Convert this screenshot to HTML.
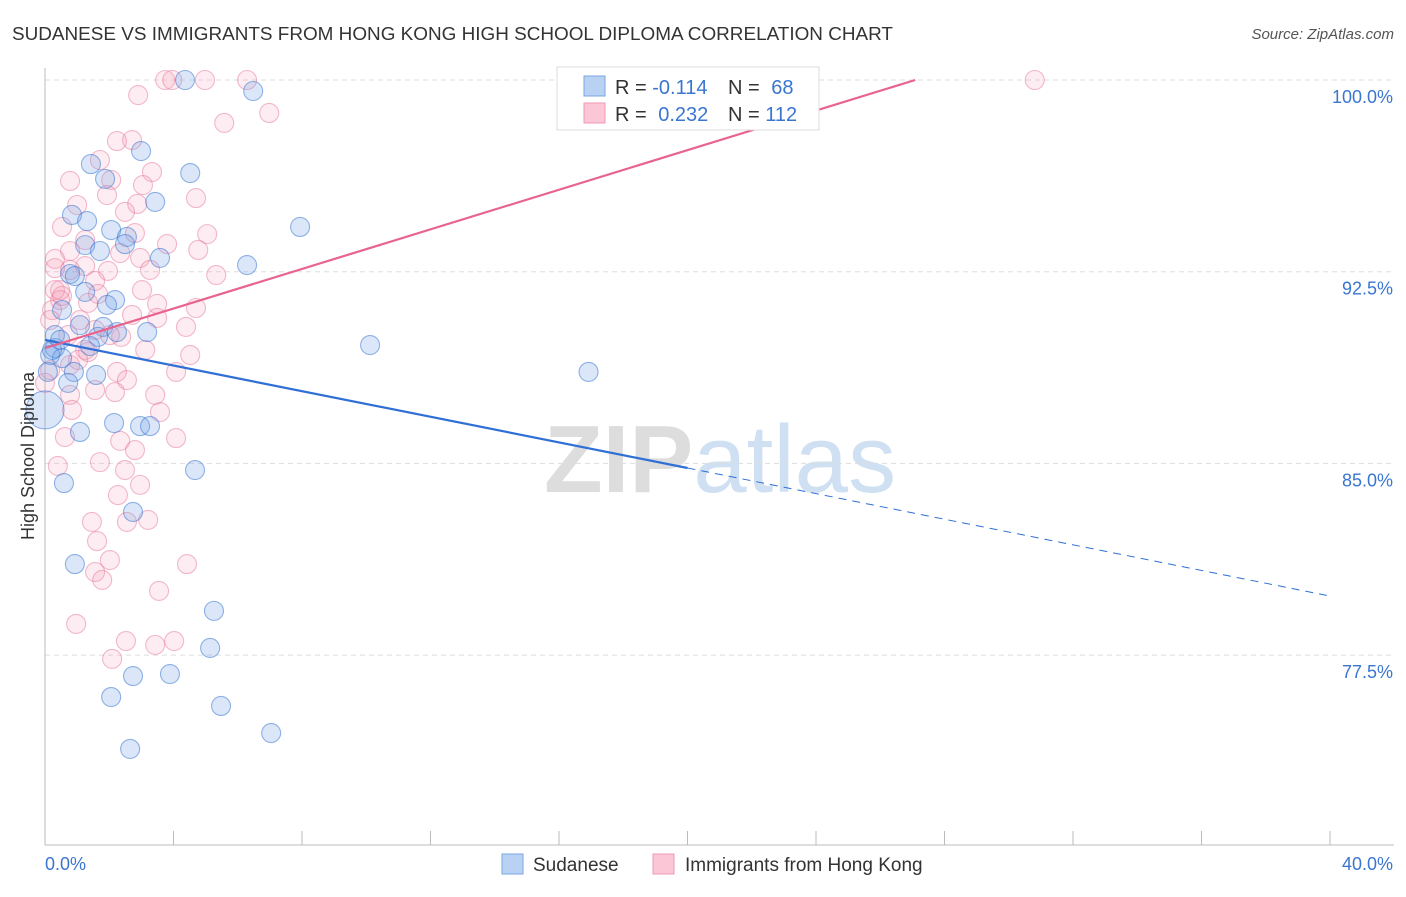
<!DOCTYPE html>
<html><head><meta charset="utf-8"><style>
body{margin:0;background:#fff;font-family:"Liberation Sans",sans-serif;}
svg text{font-family:"Liberation Sans",sans-serif;}
</style></head><body>
<svg id="chart" width="1406" height="892" viewBox="0 0 1406 892" xmlns="http://www.w3.org/2000/svg">
<text x="12" y="40" font-size="18" fill="#333" textLength="881" lengthAdjust="spacingAndGlyphs">SUDANESE VS IMMIGRANTS FROM HONG KONG HIGH SCHOOL DIPLOMA CORRELATION CHART</text>
<text x="1394" y="39" font-size="15" fill="#555" text-anchor="end" font-style="italic">Source: ZipAtlas.com</text>
<text x="720" y="492" font-size="96" text-anchor="middle" font-family="Liberation Serif" fill="#ddd" font-weight="bold">ZIP<tspan fill="#cfe0f3" font-family="Liberation Sans" font-weight="normal">atlas</tspan></text>
<g id="grid"></g>
<g id="axes"></g>
<g id="pts"></g>
<g id="lines"></g>
<text transform="translate(34,456) rotate(-90)" font-size="18" fill="#333" text-anchor="middle">High School Diploma</text>
<g>
<rect x="557" y="67" width="262" height="63" fill="#fff" stroke="#ddd"/>
<rect x="584" y="76" width="21" height="20" fill="#b9d2f3" stroke="#7aa6e0"/>
<rect x="584" y="103" width="21" height="20" fill="#fbc7d6" stroke="#ef9ab4"/>
<text x="615" y="94" font-size="20" fill="#333">R = <tspan fill="#3a76d0">-0.114</tspan></text>
<text x="728" y="94" font-size="20" fill="#333">N = <tspan fill="#3a76d0" dx="6">68</tspan></text>
<text x="615" y="121" font-size="20" fill="#333">R = <tspan fill="#3a76d0" dx="6">0.232</tspan></text>
<text x="728" y="121" font-size="20" fill="#333">N = <tspan fill="#3a76d0">112</tspan></text>
</g>
<g>
<rect x="502" y="854" width="21" height="20" fill="#b9d2f3" stroke="#7aa6e0"/>
<text x="533" y="871" font-size="19" fill="#333">Sudanese</text>
<rect x="653" y="854" width="21" height="20" fill="#fbc7d6" stroke="#ef9ab4"/>
<text x="685" y="871" font-size="19" fill="#333">Immigrants from Hong Kong</text>
</g>
</svg>
<script>
const yTicks=[100,92.5,85,77.5];
const xTickLabels=["0.0%","40.0%"];
const blueX=[4.36,6.48,2.99,1.43,4.52,1.87,3.43,0.84,1.31,7.94,2.06,2.55,1.25,2.49,1.71,3.58,6.29,0.78,0.93,1.25,2.18,1.93,0.53,1.09,1.81,3.18,2.24,0.31,1.65,10.12,1.40,0.31,0.16,0.53,16.92,0.90,1.59,0.72,0,2.15,2.96,3.27,1.09,4.67,0.59,2.74,0.93,5.26,5.14,2.74,3.89,2.06,5.48,7.04,2.65,0.22,0.47,0.09];
const blueY=[100,99.57,97.22,96.71,96.36,96.13,95.23,94.72,94.48,94.25,94.13,93.86,93.54,93.58,93.31,93.04,92.76,92.41,92.33,91.71,91.39,91.20,91.00,90.41,90.34,90.14,90.14,90.02,89.95,89.63,89.59,89.51,89.24,89.12,88.58,88.58,88.46,88.15,87.09,86.58,86.46,86.46,86.23,84.74,84.23,83.10,81.06,79.23,77.78,76.68,76.76,75.86,75.51,74.45,73.83,89.44,89.83,88.58];
const pinkX=[3.74,3.96,4.98,6.29,30.81,2.90,5.58,6.98,2.71,2.24,1.71,3.33,2.06,3.05,0.78,4.70,1.93,2.87,1.00,2.49,0.53,5.05,1.25,2.80,3.80,0.78,2.34,4.77,0.31,2.96,0.31,1.96,3.27,5.33,1.25,0.78,1.56,0.31,3.02,1.65,0.53,0.47,0.22,1.34,3.49,4.70,2.71,3.49,1.09,4.39,1.56,2.37,0.72,2.02,1.25,3.12,4.52,0.78,2.24,0.16,4.08,2.55,0,1.56,0.78,2.18,3.58,0.84,0.62,2.34,4.08,2.80,0.40,1.71,2.49,2.96,2.27,1.46,3.21,2.55,1.62,4.42,2.02,1.56,1.78,3.55,0.97,2.52,4.02,3.43,2.09,1.34,1.03,0.16,0.47,3.43];
const pinkY=[100,100,100,100,100,99.41,98.32,98.71,97.65,97.61,96.87,96.40,96.09,95.89,96.05,95.38,95.50,95.15,95.11,94.84,94.25,93.97,93.74,94.01,93.58,93.31,93.23,93.35,93.00,93.04,92.64,92.53,92.57,92.37,92.72,92.57,92.14,91.78,91.78,91.63,91.55,91.39,91.00,91.28,91.24,91.08,90.81,90.69,90.61,90.34,90.22,89.95,90.02,90.02,89.44,89.44,89.24,88.85,88.58,88.65,88.58,88.26,88.15,87.87,87.68,87.79,87.01,87.09,86.03,85.88,85.99,85.52,84.90,85.05,84.74,84.16,83.76,82.71,82.79,82.71,81.96,81.06,81.22,80.75,80.44,80.01,78.72,78.05,78.05,77.90,77.35,89.36,89.05,90.61,91.78,87.68];
const blueTrend=[89.83,79.81];
const pinkTrend=[89.51,105.0];
const NS="http://www.w3.org/2000/svg";
const X0=45,X1=1330,XMAX=40;
const sx=v=>X0+v/XMAX*(X1-X0);
const sy=v=>80+(100-v)*25.56;
function mk(t,a,p){const e=document.createElementNS(NS,t);for(const k in a)e.setAttribute(k,a[k]);p.appendChild(e);return e;}
const grid=document.getElementById('grid'),axes=document.getElementById('axes'),pts=document.getElementById('pts'),lines=document.getElementById('lines');
yTicks.forEach(v=>{
 const l=mk('line',{x1:X0,x2:1394,y1:sy(v),y2:sy(v),stroke:'#ddd','stroke-dasharray':'5,4'},grid);
 
 
 const t=mk('text',{x:1393,y:sy(v)+23,'font-size':18,fill:'#3a76d0','text-anchor':'end'},axes);
 t.textContent=v.toFixed(1)+'%';
 
 
});
const ya=mk('line',{x1:X0,x2:X0,y1:68,y2:845,stroke:'#bbb'},axes);


const xa=mk('line',{x1:X0,x2:1394,y1:845,y2:845,stroke:'#bbb'},axes);


for(let i=0;i<=10;i++){const x=sx(i*4);const tk=mk('line',{x1:x,x2:x,y1:831,y2:845,stroke:'#bbb'},axes);
 
 }
xTickLabels.forEach((s,i)=>{const t=mk('text',{x:i?1393:45,y:870,'font-size':18,fill:'#3a76d0','text-anchor':i?'end':'start'},axes);t.textContent=s;
 
 });
function dots(xs,ys,fill,stroke,name,big){xs.forEach((x,i)=>{const r=(big&&x===0&&ys[i]<87.5&&ys[i]>86.5)?19:9.5;const c=mk('circle',{cx:sx(x),cy:sy(ys[i]),r:r,fill:fill,stroke:stroke,'stroke-width':1.1},pts);
 
 });}
dots(pinkX,pinkY,'rgba(244,150,180,0.18)','rgba(232,120,155,0.5)','hongkong-point',false);
dots(blueX,blueY,'rgba(110,160,230,0.25)','rgba(60,120,210,0.55)','sudanese-point',true);
const by=x=>blueTrend[0]+(blueTrend[1]-blueTrend[0])*x/40;
const bl1=mk('line',{x1:sx(0),y1:sy(by(0)),x2:sx(20),y2:sy(by(20)),stroke:'#2f6fd6','stroke-width':2.2},lines);


const bl2=mk('line',{x1:sx(20),y1:sy(by(20)),x2:sx(39.9),y2:sy(by(39.9)),stroke:'#2f6fd6','stroke-width':1,'stroke-dasharray':'8,6'},lines);


const slope=(pinkTrend[1]-pinkTrend[0])/40;const xe=(100-pinkTrend[0])/slope;
const pl=mk('line',{x1:sx(0),y1:sy(pinkTrend[0]),x2:sx(xe),y2:sy(100),stroke:'#e8648e','stroke-width':2.2},lines);


</script>
</body></html>
